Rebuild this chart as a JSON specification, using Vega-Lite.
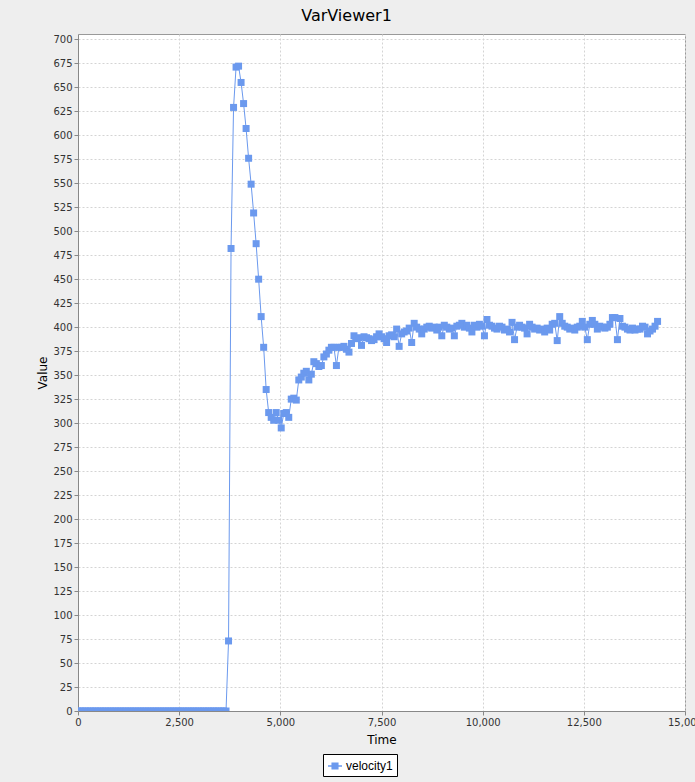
{
  "$schema": "https://vega.github.io/schema/vega-lite/v6.json",
  "autosize": {"type": "none"},
  "padding": {"left": 78, "top": 34, "right": 10, "bottom": 71},
  "width": 607,
  "height": 677,
  "background": "#eeeeee",
  "title": {"text": "VarViewer1", "fontSize": 16, "font": "DejaVu Sans", "fontWeight": "normal", "color": "#000000", "offset": 10, "dx": -35},
  "config": {
    "view": {"fill": "#ffffff", "stroke": "#999999", "strokeWidth": 1},
    "axis": {
      "labelFont": "DejaVu Sans", "labelFontSize": 10, "labelColor": "#333333",
      "titleFont": "DejaVu Sans", "titleFontSize": 12, "titleFontWeight": "normal", "titleColor": "#000000",
      "domainColor": "#888888", "tickColor": "#888888", "tickSize": 4,
      "gridColor": "#d4d4d4", "gridDash": [2, 2], "gridWidth": 1
    }
  },
  "data": {"values": [
    {"t":0,"v":0,"s":"velocity1"},{"t":62,"v":0,"s":"velocity1"},{"t":124,"v":0,"s":"velocity1"},{"t":186,"v":0,"s":"velocity1"},{"t":248,"v":0,"s":"velocity1"},{"t":310,"v":0,"s":"velocity1"},{"t":372,"v":0,"s":"velocity1"},{"t":434,"v":0,"s":"velocity1"},{"t":496,"v":0,"s":"velocity1"},{"t":558,"v":0,"s":"velocity1"},
    {"t":620,"v":0,"s":"velocity1"},{"t":682,"v":0,"s":"velocity1"},{"t":744,"v":0,"s":"velocity1"},{"t":806,"v":0,"s":"velocity1"},{"t":868,"v":0,"s":"velocity1"},{"t":930,"v":0,"s":"velocity1"},{"t":992,"v":0,"s":"velocity1"},{"t":1054,"v":0,"s":"velocity1"},{"t":1116,"v":0,"s":"velocity1"},{"t":1178,"v":0,"s":"velocity1"},
    {"t":1240,"v":0,"s":"velocity1"},{"t":1302,"v":0,"s":"velocity1"},{"t":1364,"v":0,"s":"velocity1"},{"t":1426,"v":0,"s":"velocity1"},{"t":1488,"v":0,"s":"velocity1"},{"t":1550,"v":0,"s":"velocity1"},{"t":1612,"v":0,"s":"velocity1"},{"t":1674,"v":0,"s":"velocity1"},{"t":1736,"v":0,"s":"velocity1"},{"t":1798,"v":0,"s":"velocity1"},
    {"t":1860,"v":0,"s":"velocity1"},{"t":1922,"v":0,"s":"velocity1"},{"t":1984,"v":0,"s":"velocity1"},{"t":2046,"v":0,"s":"velocity1"},{"t":2108,"v":0,"s":"velocity1"},{"t":2170,"v":0,"s":"velocity1"},{"t":2232,"v":0,"s":"velocity1"},{"t":2294,"v":0,"s":"velocity1"},{"t":2356,"v":0,"s":"velocity1"},{"t":2418,"v":0,"s":"velocity1"},
    {"t":2480,"v":0,"s":"velocity1"},{"t":2542,"v":0,"s":"velocity1"},{"t":2604,"v":0,"s":"velocity1"},{"t":2666,"v":0,"s":"velocity1"},{"t":2728,"v":0,"s":"velocity1"},{"t":2790,"v":0,"s":"velocity1"},{"t":2852,"v":0,"s":"velocity1"},{"t":2914,"v":0,"s":"velocity1"},{"t":2976,"v":0,"s":"velocity1"},{"t":3038,"v":0,"s":"velocity1"},
    {"t":3100,"v":0,"s":"velocity1"},{"t":3162,"v":0,"s":"velocity1"},{"t":3224,"v":0,"s":"velocity1"},{"t":3286,"v":0,"s":"velocity1"},{"t":3348,"v":0,"s":"velocity1"},{"t":3410,"v":0,"s":"velocity1"},{"t":3472,"v":0,"s":"velocity1"},{"t":3534,"v":0,"s":"velocity1"},{"t":3596,"v":0,"s":"velocity1"},{"t":3658,"v":0,"s":"velocity1"},
    {"t":3720,"v":73,"s":"velocity1"},{"t":3782,"v":482,"s":"velocity1"},{"t":3844,"v":629,"s":"velocity1"},{"t":3906,"v":671,"s":"velocity1"},{"t":3968,"v":672,"s":"velocity1"},{"t":4030,"v":655,"s":"velocity1"},{"t":4092,"v":633,"s":"velocity1"},{"t":4154,"v":607,"s":"velocity1"},{"t":4216,"v":576,"s":"velocity1"},{"t":4278,"v":549,"s":"velocity1"},
    {"t":4340,"v":519,"s":"velocity1"},{"t":4402,"v":487,"s":"velocity1"},{"t":4464,"v":450,"s":"velocity1"},{"t":4526,"v":411,"s":"velocity1"},{"t":4588,"v":379,"s":"velocity1"},{"t":4650,"v":335,"s":"velocity1"},{"t":4712,"v":311,"s":"velocity1"},{"t":4774,"v":306,"s":"velocity1"},{"t":4836,"v":303,"s":"velocity1"},{"t":4898,"v":311,"s":"velocity1"},
    {"t":4960,"v":303,"s":"velocity1"},{"t":5022,"v":295,"s":"velocity1"},{"t":5084,"v":310,"s":"velocity1"},{"t":5146,"v":311,"s":"velocity1"},{"t":5208,"v":306,"s":"velocity1"},{"t":5270,"v":325,"s":"velocity1"},{"t":5332,"v":326,"s":"velocity1"},{"t":5394,"v":324,"s":"velocity1"},{"t":5456,"v":345,"s":"velocity1"},{"t":5518,"v":348,"s":"velocity1"},
    {"t":5580,"v":352,"s":"velocity1"},{"t":5642,"v":354,"s":"velocity1"},{"t":5704,"v":345,"s":"velocity1"},{"t":5766,"v":351,"s":"velocity1"},{"t":5828,"v":364,"s":"velocity1"},{"t":5890,"v":362,"s":"velocity1"},{"t":5952,"v":359,"s":"velocity1"},{"t":6014,"v":360,"s":"velocity1"},{"t":6076,"v":369,"s":"velocity1"},{"t":6138,"v":372,"s":"velocity1"},
    {"t":6200,"v":376,"s":"velocity1"},{"t":6262,"v":379,"s":"velocity1"},{"t":6324,"v":379,"s":"velocity1"},{"t":6386,"v":360,"s":"velocity1"},{"t":6448,"v":379,"s":"velocity1"},{"t":6510,"v":379,"s":"velocity1"},{"t":6572,"v":380,"s":"velocity1"},{"t":6634,"v":377,"s":"velocity1"},{"t":6696,"v":374,"s":"velocity1"},{"t":6758,"v":383,"s":"velocity1"},
    {"t":6820,"v":391,"s":"velocity1"},{"t":6882,"v":388,"s":"velocity1"},{"t":6944,"v":389,"s":"velocity1"},{"t":7006,"v":381,"s":"velocity1"},{"t":7068,"v":390,"s":"velocity1"},{"t":7130,"v":389,"s":"velocity1"},{"t":7192,"v":388,"s":"velocity1"},{"t":7254,"v":386,"s":"velocity1"},{"t":7316,"v":387,"s":"velocity1"},{"t":7378,"v":390,"s":"velocity1"},
    {"t":7440,"v":393,"s":"velocity1"},{"t":7502,"v":390,"s":"velocity1"},{"t":7564,"v":388,"s":"velocity1"},{"t":7626,"v":384,"s":"velocity1"},{"t":7688,"v":391,"s":"velocity1"},{"t":7750,"v":392,"s":"velocity1"},{"t":7812,"v":390,"s":"velocity1"},{"t":7874,"v":398,"s":"velocity1"},{"t":7936,"v":380,"s":"velocity1"},{"t":7998,"v":393,"s":"velocity1"},
    {"t":8060,"v":395,"s":"velocity1"},{"t":8122,"v":396,"s":"velocity1"},{"t":8184,"v":399,"s":"velocity1"},{"t":8246,"v":384,"s":"velocity1"},{"t":8308,"v":404,"s":"velocity1"},{"t":8370,"v":400,"s":"velocity1"},{"t":8432,"v":398,"s":"velocity1"},{"t":8494,"v":393,"s":"velocity1"},{"t":8556,"v":398,"s":"velocity1"},{"t":8618,"v":400,"s":"velocity1"},
    {"t":8680,"v":401,"s":"velocity1"},{"t":8742,"v":399,"s":"velocity1"},{"t":8804,"v":400,"s":"velocity1"},{"t":8866,"v":397,"s":"velocity1"},{"t":8928,"v":400,"s":"velocity1"},{"t":8990,"v":391,"s":"velocity1"},{"t":9052,"v":402,"s":"velocity1"},{"t":9114,"v":400,"s":"velocity1"},{"t":9176,"v":398,"s":"velocity1"},{"t":9238,"v":399,"s":"velocity1"},
    {"t":9300,"v":391,"s":"velocity1"},{"t":9362,"v":401,"s":"velocity1"},{"t":9424,"v":402,"s":"velocity1"},{"t":9486,"v":404,"s":"velocity1"},{"t":9548,"v":400,"s":"velocity1"},{"t":9610,"v":402,"s":"velocity1"},{"t":9672,"v":399,"s":"velocity1"},{"t":9734,"v":395,"s":"velocity1"},{"t":9796,"v":402,"s":"velocity1"},{"t":9858,"v":400,"s":"velocity1"},
    {"t":9920,"v":403,"s":"velocity1"},{"t":9982,"v":401,"s":"velocity1"},{"t":10044,"v":391,"s":"velocity1"},{"t":10106,"v":408,"s":"velocity1"},{"t":10168,"v":402,"s":"velocity1"},{"t":10230,"v":401,"s":"velocity1"},{"t":10292,"v":399,"s":"velocity1"},{"t":10354,"v":398,"s":"velocity1"},{"t":10416,"v":401,"s":"velocity1"},{"t":10478,"v":400,"s":"velocity1"},
    {"t":10540,"v":397,"s":"velocity1"},{"t":10602,"v":398,"s":"velocity1"},{"t":10664,"v":395,"s":"velocity1"},{"t":10726,"v":405,"s":"velocity1"},{"t":10788,"v":387,"s":"velocity1"},{"t":10850,"v":400,"s":"velocity1"},{"t":10912,"v":402,"s":"velocity1"},{"t":10974,"v":400,"s":"velocity1"},{"t":11036,"v":399,"s":"velocity1"},{"t":11098,"v":393,"s":"velocity1"},
    {"t":11160,"v":403,"s":"velocity1"},{"t":11222,"v":400,"s":"velocity1"},{"t":11284,"v":398,"s":"velocity1"},{"t":11346,"v":399,"s":"velocity1"},{"t":11408,"v":397,"s":"velocity1"},{"t":11470,"v":398,"s":"velocity1"},{"t":11532,"v":395,"s":"velocity1"},{"t":11594,"v":399,"s":"velocity1"},{"t":11656,"v":397,"s":"velocity1"},{"t":11718,"v":403,"s":"velocity1"},
    {"t":11780,"v":404,"s":"velocity1"},{"t":11842,"v":386,"s":"velocity1"},{"t":11904,"v":411,"s":"velocity1"},{"t":11966,"v":404,"s":"velocity1"},{"t":12028,"v":401,"s":"velocity1"},{"t":12090,"v":400,"s":"velocity1"},{"t":12152,"v":398,"s":"velocity1"},{"t":12214,"v":399,"s":"velocity1"},{"t":12276,"v":397,"s":"velocity1"},{"t":12338,"v":400,"s":"velocity1"},
    {"t":12400,"v":401,"s":"velocity1"},{"t":12462,"v":406,"s":"velocity1"},{"t":12524,"v":400,"s":"velocity1"},{"t":12586,"v":387,"s":"velocity1"},{"t":12648,"v":403,"s":"velocity1"},{"t":12710,"v":407,"s":"velocity1"},{"t":12772,"v":403,"s":"velocity1"},{"t":12834,"v":398,"s":"velocity1"},{"t":12896,"v":401,"s":"velocity1"},{"t":12958,"v":400,"s":"velocity1"},
    {"t":13020,"v":399,"s":"velocity1"},{"t":13082,"v":400,"s":"velocity1"},{"t":13144,"v":403,"s":"velocity1"},{"t":13206,"v":410,"s":"velocity1"},{"t":13268,"v":410,"s":"velocity1"},{"t":13330,"v":387,"s":"velocity1"},{"t":13392,"v":409,"s":"velocity1"},{"t":13454,"v":401,"s":"velocity1"},{"t":13516,"v":400,"s":"velocity1"},{"t":13578,"v":398,"s":"velocity1"},
    {"t":13640,"v":397,"s":"velocity1"},{"t":13702,"v":399,"s":"velocity1"},{"t":13764,"v":397,"s":"velocity1"},{"t":13826,"v":398,"s":"velocity1"},{"t":13888,"v":398,"s":"velocity1"},{"t":13950,"v":401,"s":"velocity1"},{"t":14012,"v":400,"s":"velocity1"},{"t":14074,"v":393,"s":"velocity1"},{"t":14136,"v":396,"s":"velocity1"},{"t":14198,"v":398,"s":"velocity1"},
    {"t":14260,"v":401,"s":"velocity1"},{"t":14322,"v":406,"s":"velocity1"}
  ]},
  "encoding": {
    "x": {"field": "t", "type": "quantitative", "title": "Time",
      "scale": {"domain": [0, 15000], "nice": false},
      "axis": {"values": [0, 2500, 5000, 7500, 10000, 12500, 15000], "format": ",d", "labelFlush": false, "titlePadding": 7}},
    "y": {"field": "v", "type": "quantitative", "title": "Value",
      "scale": {"domain": [0, 705.5], "nice": false},
      "axis": {"values": [0,25,50,75,100,125,150,175,200,225,250,275,300,325,350,375,400,425,450,475,500,525,550,575,600,625,650,675,700], "labelFlush": false, "titlePadding": 3}},
    "color": {"field": "s", "type": "nominal", "title": null,
      "scale": {"range": ["#6b99ee"]},
      "legend": {"orient": "none", "legendX": 245, "legendY": 720, "direction": "horizontal", "strokeColor": "#000000", "fillColor": "#ffffff", "padding": 4,
        "labelFont": "Liberation Sans", "labelFontSize": 12, "labelColor": "#000000", "labelOffset": 3,
        "symbolType": "M-1,0L1,0M-0.4,-0.4L0.4,-0.4L0.4,0.4L-0.4,0.4Z", "symbolSize": 196, "symbolStrokeWidth": 1.5, "symbolFillColor": "#6b99ee", "symbolStrokeColor": "#6b99ee"}}
  },
  "layer": [
    {"mark": {"type": "line", "strokeWidth": 1, "clip": true}},
    {"mark": {"type": "square", "size": 49, "opacity": 1, "filled": true, "clip": true}}
  ]
}
